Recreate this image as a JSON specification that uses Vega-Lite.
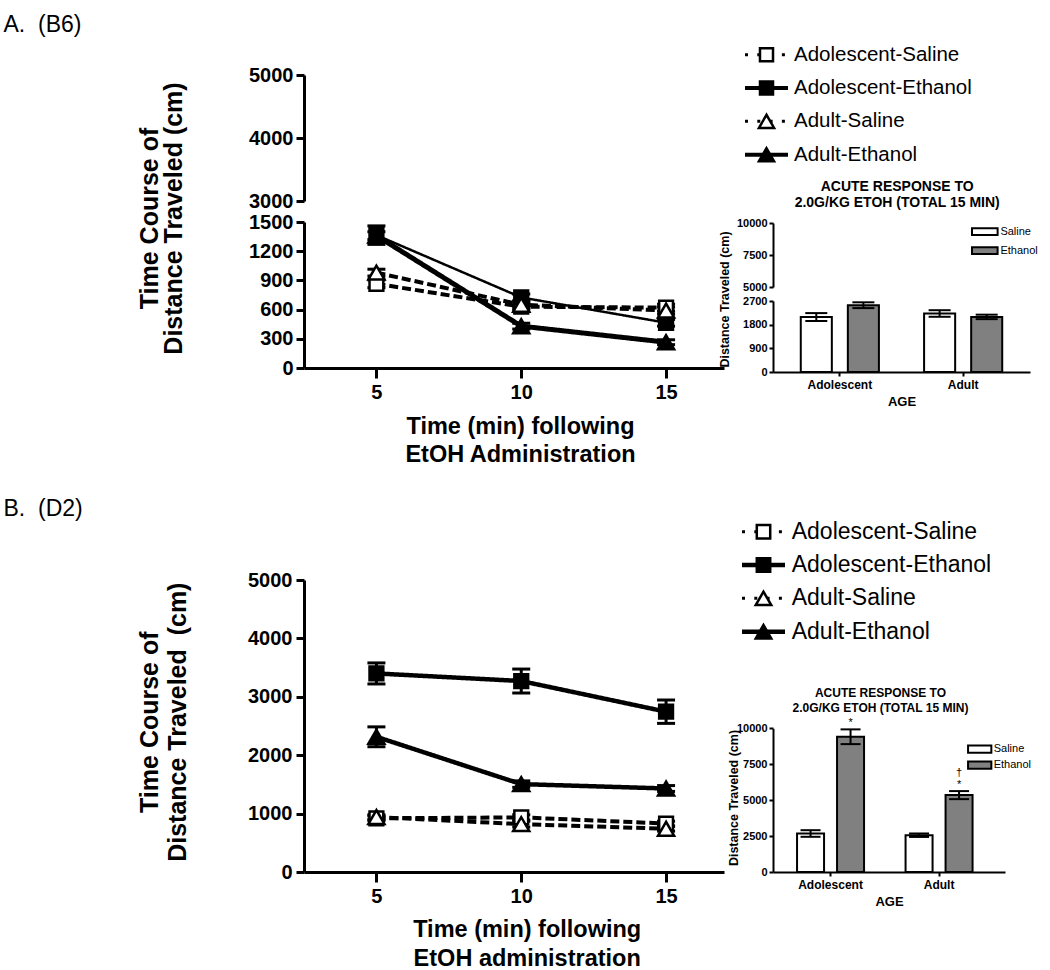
{
  "$schema": "https://vega.github.io/schema/vega-lite/v6.json",
  "autosize": {"type": "none"},
  "padding": {"left": 304, "top": 38, "right": 746, "bottom": 932},
  "background": "white",
  "datasets": {
    "lines": [
      {"panel": "A", "series": "Adolescent-Saline", "time": 5, "mean": 865, "lo": 825, "hi": 905},
      {"panel": "A", "series": "Adolescent-Saline", "time": 10, "mean": 630, "lo": 595, "hi": 665},
      {"panel": "A", "series": "Adolescent-Saline", "time": 15, "mean": 620, "lo": 585, "hi": 655},
      {"panel": "A", "series": "Adolescent-Ethanol", "time": 5, "mean": 1365, "lo": 1270, "hi": 1460},
      {"panel": "A", "series": "Adolescent-Ethanol", "time": 10, "mean": 725, "lo": 690, "hi": 760},
      {"panel": "A", "series": "Adolescent-Ethanol", "time": 15, "mean": 465, "lo": 430, "hi": 500},
      {"panel": "A", "series": "Adult-Saline", "time": 5, "mean": 980, "lo": 945, "hi": 1015},
      {"panel": "A", "series": "Adult-Saline", "time": 10, "mean": 650, "lo": 615, "hi": 685},
      {"panel": "A", "series": "Adult-Saline", "time": 15, "mean": 590, "lo": 555, "hi": 625},
      {"panel": "A", "series": "Adult-Ethanol", "time": 5, "mean": 1360, "lo": 1320, "hi": 1400},
      {"panel": "A", "series": "Adult-Ethanol", "time": 10, "mean": 430, "lo": 400, "hi": 460},
      {"panel": "A", "series": "Adult-Ethanol", "time": 15, "mean": 265, "lo": 240, "hi": 290},
      {"panel": "B", "series": "Adolescent-Saline", "time": 5, "mean": 920, "lo": 880, "hi": 960},
      {"panel": "B", "series": "Adolescent-Saline", "time": 10, "mean": 935, "lo": 890, "hi": 980},
      {"panel": "B", "series": "Adolescent-Saline", "time": 15, "mean": 830, "lo": 790, "hi": 870},
      {"panel": "B", "series": "Adolescent-Ethanol", "time": 5, "mean": 3400, "lo": 3220, "hi": 3580},
      {"panel": "B", "series": "Adolescent-Ethanol", "time": 10, "mean": 3270, "lo": 3065, "hi": 3475},
      {"panel": "B", "series": "Adolescent-Ethanol", "time": 15, "mean": 2745, "lo": 2545, "hi": 2945},
      {"panel": "B", "series": "Adult-Saline", "time": 5, "mean": 940, "lo": 900, "hi": 980},
      {"panel": "B", "series": "Adult-Saline", "time": 10, "mean": 820, "lo": 770, "hi": 870},
      {"panel": "B", "series": "Adult-Saline", "time": 15, "mean": 740, "lo": 700, "hi": 780},
      {"panel": "B", "series": "Adult-Ethanol", "time": 5, "mean": 2315, "lo": 2145, "hi": 2485},
      {"panel": "B", "series": "Adult-Ethanol", "time": 10, "mean": 1505, "lo": 1450, "hi": 1560},
      {"panel": "B", "series": "Adult-Ethanol", "time": 15, "mean": 1430, "lo": 1380, "hi": 1480}
    ],
    "bars": [
      {"panel": "A", "age": "Adolescent", "treatment": "Saline", "mean": 2090, "lo": 1940, "hi": 2240, "sig": "", "dagger": ""},
      {"panel": "A", "age": "Adolescent", "treatment": "Ethanol", "mean": 2540, "lo": 2430, "hi": 2650, "sig": "", "dagger": ""},
      {"panel": "A", "age": "Adult", "treatment": "Saline", "mean": 2225, "lo": 2100, "hi": 2350, "sig": "", "dagger": ""},
      {"panel": "A", "age": "Adult", "treatment": "Ethanol", "mean": 2095, "lo": 2010, "hi": 2180, "sig": "", "dagger": ""},
      {"panel": "B", "age": "Adolescent", "treatment": "Saline", "mean": 2680, "lo": 2450, "hi": 2910, "sig": "", "dagger": ""},
      {"panel": "B", "age": "Adolescent", "treatment": "Ethanol", "mean": 9410, "lo": 8900, "hi": 9925, "sig": "*", "dagger": ""},
      {"panel": "B", "age": "Adult", "treatment": "Saline", "mean": 2560, "lo": 2440, "hi": 2680, "sig": "", "dagger": ""},
      {"panel": "B", "age": "Adult", "treatment": "Ethanol", "mean": 5350, "lo": 5070, "hi": 5630, "sig": "*", "dagger": "\u2020"}
    ],
    "legend": [
      {"series": "Adolescent-Saline"},
      {"series": "Adolescent-Ethanol"},
      {"series": "Adult-Saline"},
      {"series": "Adult-Ethanol"}
    ]
  },
  "columns": 2,
  "align": "each",
  "bounds": "flush",
  "spacing": {"row": 143, "column": 49},
  "resolve": {
    "scale": {"x": "independent", "y": "independent", "xOffset": "independent", "fill": "independent", "shape": "independent", "strokeDash": "independent", "strokeWidth": "independent", "size": "independent"},
    "legend": {"fill": "independent"}
  },
  "concat": [
    {
      "width": 420, "height": 330,
      "data": {"name": "lines"},
      "transform": [{"filter": "datum.panel === 'A'"}],
      "resolve": {"scale": {"x": "independent", "y": "independent"}, "axis": {"x": "independent", "y": "independent"}},
      "layer": [
        {
          "transform": [{"filter": "datum.mean >= 3000"}],
          "mark": {"type": "point", "opacity": 0},
          "encoding": {
            "x": {"field": "time", "type": "quantitative", "scale": {"domain": [2.5, 17], "nice": false, "zero": false},
                  "axis": {"orient": "top", "domain": false, "ticks": false, "labels": false, "title": "A.\u00a0 (B6)", "titleX": -301, "titleY": -6.3, "titleAlign": "left", "titleBaseline": "alphabetic", "titleAngle": 0, "titleFontSize": 23, "titleFontWeight": "normal"}},
            "y": {"field": "mean", "type": "quantitative", "scale": {"domain": [3000, 5000], "range": [163, 37], "nice": false, "zero": false},
                  "axis": {"orient": "left", "values": [3000, 4000, 5000], "format": "d", "labelFontSize": 20, "tickSize": 8, "tickWidth": 3, "domainWidth": 3, "labelPadding": 3, "labelOverlap": false, "title": null}}
          }
        },
        {
          "encoding": {
            "x": {"field": "time", "type": "quantitative", "scale": {"domain": [2.5, 17], "nice": false, "zero": false},
                  "axis": {"orient": "bottom", "values": [5, 10, 15], "title": ["Time (min) following", "EtOH Administration"], "titleFontSize": 23.5, "titleLineHeight": 28.3, "titleX": 216, "titleY": 65.5, "titleAlign": "center", "titleBaseline": "alphabetic", "labelFontSize": 20, "labelPadding": 4, "tickSize": 10, "tickWidth": 3, "domainWidth": 3, "labelOverlap": false}}
          },
          "layer": [
            {
              "mark": {"type": "line", "color": "black"},
              "encoding": {
                "y": {"field": "mean", "type": "quantitative", "scale": {"domain": [0, 1500], "range": [330, 184], "nice": false, "zero": false},
                      "axis": {"orient": "left", "values": [0, 300, 600, 900, 1200, 1500], "format": "d", "labelFontSize": 20, "tickSize": 8, "tickWidth": 3, "domainWidth": 3, "labelPadding": 3, "labelOverlap": false,
                               "title": ["Time Course of", "Distance Traveled (cm)"], "titleFontSize": 25, "titleLineHeight": 24, "titleX": -154.8, "titleY": 180, "titleAngle": -90, "titleAlign": "center", "titleBaseline": "middle"}},
                "detail": {"field": "series"},
                "strokeDash": {"field": "series", "type": "nominal", "scale": {"type": "ordinal", "domain": ["Adolescent-Saline", "Adolescent-Ethanol", "Adult-Saline", "Adult-Ethanol"], "range": [[9, 4], [1, 0], [9, 4], [1, 0]]}, "legend": null},
                "strokeWidth": {"field": "series", "type": "nominal", "scale": {"type": "ordinal", "domain": ["Adolescent-Saline", "Adolescent-Ethanol", "Adult-Saline", "Adult-Ethanol"], "range": [4, 2.5, 4, 5]}, "legend": null}
              }
            },
            {
              "mark": {"type": "rule", "color": "black", "strokeWidth": 3},
              "encoding": {"y": {"field": "lo", "type": "quantitative"}, "y2": {"field": "hi"}}
            },
            {
              "mark": {"type": "tick", "orient": "horizontal", "color": "black", "thickness": 3, "size": 18, "opacity": 1},
              "encoding": {"y": {"field": "lo", "type": "quantitative"}}
            },
            {
              "mark": {"type": "tick", "orient": "horizontal", "color": "black", "thickness": 3, "size": 18, "opacity": 1},
              "encoding": {"y": {"field": "hi", "type": "quantitative"}}
            },
            {
              "mark": {"type": "point", "stroke": "black", "strokeWidth": 2.5, "filled": true, "opacity": 1},
              "encoding": {
                "y": {"field": "mean", "type": "quantitative"},
                "shape": {"field": "series", "type": "nominal", "scale": {"domain": ["Adolescent-Saline", "Adolescent-Ethanol", "Adult-Saline", "Adult-Ethanol"], "range": ["square", "square", "triangle-up", "triangle-up"]}, "legend": null},
                "fill": {"field": "series", "type": "nominal", "scale": {"domain": ["Adolescent-Saline", "Adolescent-Ethanol", "Adult-Saline", "Adult-Ethanol"], "range": ["white", "black", "white", "black"]}, "legend": null},
                "size": {"field": "series", "type": "nominal", "scale": {"type": "ordinal", "domain": ["Adolescent-Saline", "Adolescent-Ethanol", "Adult-Saline", "Adult-Ethanol"], "range": [190, 190, 260, 260]}, "legend": null}
              }
            }
          ]
        }
      ]
    },
    {
      "width": 257, "height": 334,
      "resolve": {
        "scale": {"x": "independent", "y": "independent", "xOffset": "independent", "fill": "independent", "shape": "independent", "size": "independent", "strokeDash": "independent", "strokeWidth": "independent"},
        "axis": {"x": "independent", "y": "independent"},
        "legend": {"fill": "independent"}
      },
      "layer": [
        {
          "data": {"name": "legend"},
          "encoding": {
            "y": {"field": "series", "type": "nominal", "scale": {"type": "point", "domain": ["Adolescent-Saline", "Adolescent-Ethanol", "Adult-Saline", "Adult-Ethanol"], "range": [16.7, 116.7], "padding": 0}, "axis": null}
          },
          "layer": [
            {
              "mark": {"type": "rule", "color": "black"},
              "encoding": {
                "x": {"datum": 0, "type": "quantitative", "scale": {"domain": [0, 1], "range": [-28, 15], "nice": false, "zero": false}, "axis": null},
                "x2": {"datum": 1},
                "strokeDash": {"field": "series", "type": "nominal", "scale": {"type": "ordinal", "domain": ["Adolescent-Saline", "Adolescent-Ethanol", "Adult-Saline", "Adult-Ethanol"], "range": [[3, 9.3], [1, 0], [3, 9.3], [1, 0]]}, "legend": null},
                "strokeWidth": {"field": "series", "type": "nominal", "scale": {"type": "ordinal", "domain": ["Adolescent-Saline", "Adolescent-Ethanol", "Adult-Saline", "Adult-Ethanol"], "range": [3, 4, 3, 4]}, "legend": null}
              }
            },
            {
              "mark": {"type": "point", "stroke": "black", "strokeWidth": 2.5, "filled": true, "opacity": 1},
              "encoding": {
                "x": {"datum": 0.5, "type": "quantitative"},
                "shape": {"field": "series", "type": "nominal", "scale": {"domain": ["Adolescent-Saline", "Adolescent-Ethanol", "Adult-Saline", "Adult-Ethanol"], "range": ["square", "square", "triangle-up", "triangle-up"]}, "legend": null},
                "fill": {"field": "series", "type": "nominal", "scale": {"domain": ["Adolescent-Saline", "Adolescent-Ethanol", "Adult-Saline", "Adult-Ethanol"], "range": ["white", "black", "white", "black"]}, "legend": null},
                "size": {"field": "series", "type": "nominal", "scale": {"type": "ordinal", "domain": ["Adolescent-Saline", "Adolescent-Ethanol", "Adult-Saline", "Adult-Ethanol"], "range": [170, 170, 230, 230]}, "legend": null}
              }
            },
            {
              "mark": {"type": "text", "align": "left", "baseline": "middle", "fontSize": 20.5, "color": "black"},
              "encoding": {
                "x": {"datum": 1.14, "type": "quantitative"},
                "text": {"field": "series"}
              }
            }
          ]
        },
        {
          "data": {"name": "bars"},
          "transform": [{"filter": "datum.panel === 'A' && datum.mean >= 5000"}],
          "mark": {"type": "point", "opacity": 0},
          "encoding": {
            "x": {"field": "age", "type": "nominal", "scale": {"domain": ["Adolescent", "Adult"]},
                  "axis": {"orient": "top", "domain": false, "ticks": false, "labels": false, "title": ["ACUTE RESPONSE TO", "2.0G/KG ETOH (TOTAL 15 MIN)"], "titleX": 123.7, "titleY": 152, "titleAlign": "center", "titleBaseline": "alphabetic", "titleAngle": 0, "titleFontSize": 14, "titleLineHeight": 16.7}},
            "y": {"field": "mean", "type": "quantitative", "scale": {"domain": [5000, 10000], "range": [249, 185], "nice": false, "zero": false},
                  "axis": {"orient": "left", "values": [5000, 7500, 10000], "format": "d", "labelFontSize": 11, "tickSize": 4, "tickWidth": 2, "domainWidth": 2, "labelPadding": 2, "labelOverlap": false, "title": null}}
          }
        },
        {
          "data": {"name": "bars"},
          "transform": [{"filter": "datum.panel === 'A'"}],
          "encoding": {
            "x": {"field": "age", "type": "nominal", "scale": {"domain": ["Adolescent", "Adult"], "paddingInner": 0, "paddingOuter": 0.042, "align": 0.5},
                  "axis": {"orient": "bottom", "title": "AGE", "labelAngle": 0, "labelFontSize": 12, "tickSize": 4, "tickWidth": 2, "domainWidth": 2, "labelPadding": 3, "titleFontSize": 13, "titlePadding": 5}},
            "xOffset": {"field": "treatment", "type": "nominal", "scale": {"domain": ["Saline", "Ethanol"], "paddingInner": 0.34, "paddingOuter": 0.48}}
          },
          "layer": [
            {
              "mark": {"type": "bar", "stroke": "black", "strokeWidth": 2},
              "encoding": {
                "y": {"field": "mean", "type": "quantitative", "scale": {"domain": [0, 2700], "range": [334, 263], "nice": false, "zero": false},
                      "axis": {"orient": "left", "values": [0, 900, 1800, 2700], "format": "d", "labelFontSize": 11, "tickSize": 4, "tickWidth": 2, "domainWidth": 2, "labelPadding": 2, "labelOverlap": false,
                               "title": "Distance Traveled (cm)", "titleFontSize": 12.5, "titleX": -49, "titleY": 261, "titleAngle": -90, "titleAlign": "center", "titleBaseline": "middle"}},
                "fill": {"field": "treatment", "type": "nominal", "scale": {"domain": ["Saline", "Ethanol"], "range": ["white", "#808080"]},
                         "legend": {"title": null, "orient": "none", "legendX": 202.8, "legendY": 184.7, "symbolType": "M-1.6,-0.42H1.6V0.42H-1.6Z", "symbolSize": 256, "symbolStrokeColor": "black", "symbolStrokeWidth": 2, "symbolOpacity": 1, "labelFontSize": 11, "labelFontWeight": "normal", "labelOffset": 6.6, "rowPadding": 2, "padding": 0, "direction": "vertical"}}
              }
            },
            {
              "mark": {"type": "rule", "color": "black", "strokeWidth": 2},
              "encoding": {"y": {"field": "lo", "type": "quantitative"}, "y2": {"field": "hi"}}
            },
            {
              "mark": {"type": "tick", "orient": "horizontal", "color": "black", "thickness": 2, "size": 22, "opacity": 1},
              "encoding": {"y": {"field": "lo", "type": "quantitative"}}
            },
            {
              "mark": {"type": "tick", "orient": "horizontal", "color": "black", "thickness": 2, "size": 22, "opacity": 1},
              "encoding": {"y": {"field": "hi", "type": "quantitative"}}
            }
          ]
        }
      ]
    },
    {
      "width": 420, "height": 357,
      "data": {"name": "lines"},
      "transform": [{"filter": "datum.panel === 'B'"}],
      "resolve": {"scale": {"x": "independent", "y": "independent"}, "axis": {"x": "independent", "y": "independent"}},
      "layer": [
        {
          "transform": [{"filter": "datum.mean >= 100000"}],
          "mark": {"type": "point", "opacity": 0},
          "encoding": {
            "x": {"field": "time", "type": "quantitative", "scale": {"domain": [2.5, 17], "nice": false, "zero": false},
                  "axis": {"orient": "top", "domain": false, "ticks": false, "labels": false, "title": "B.\u00a0 (D2)", "titleX": -301, "titleY": 0, "titleAlign": "left", "titleBaseline": "alphabetic", "titleAngle": 0, "titleFontSize": 23, "titleFontWeight": "normal"}}
          }
        },
        {
          "encoding": {
            "x": {"field": "time", "type": "quantitative", "scale": {"domain": [2.5, 17], "nice": false, "zero": false},
                  "axis": {"orient": "bottom", "values": [5, 10, 15], "title": ["Time (min) following", "EtOH administration"], "titleFontSize": 23.5, "titleLineHeight": 28.4, "titleX": 222.7, "titleY": 64.8, "titleAlign": "center", "titleBaseline": "alphabetic", "labelFontSize": 20, "labelPadding": 4, "tickSize": 10, "tickWidth": 3, "domainWidth": 3, "labelOverlap": false}}
          },
          "layer": [
            {
              "mark": {"type": "line", "color": "black"},
              "encoding": {
                "y": {"field": "mean", "type": "quantitative", "scale": {"domain": [0, 5000], "range": [357, 65], "nice": false, "zero": false},
                      "axis": {"orient": "left", "values": [0, 1000, 2000, 3000, 4000, 5000], "format": "d", "labelFontSize": 20, "tickSize": 8, "tickWidth": 3, "domainWidth": 3, "labelPadding": 4, "labelOverlap": false,
                               "title": ["Time Course of", "Distance Traveled\u00a0 (cm)"], "titleFontSize": 25, "titleLineHeight": 28, "titleX": -154.8, "titleY": 206.7, "titleAngle": -90, "titleAlign": "center", "titleBaseline": "middle"}},
                "detail": {"field": "series"},
                "strokeDash": {"field": "series", "type": "nominal", "scale": {"type": "ordinal", "domain": ["Adolescent-Saline", "Adolescent-Ethanol", "Adult-Saline", "Adult-Ethanol"], "range": [[9, 4], [1, 0], [9, 4], [1, 0]]}, "legend": null},
                "strokeWidth": {"field": "series", "type": "nominal", "scale": {"type": "ordinal", "domain": ["Adolescent-Saline", "Adolescent-Ethanol", "Adult-Saline", "Adult-Ethanol"], "range": [4, 4.5, 4, 4.5]}, "legend": null}
              }
            },
            {
              "mark": {"type": "rule", "color": "black", "strokeWidth": 3},
              "encoding": {"y": {"field": "lo", "type": "quantitative"}, "y2": {"field": "hi"}}
            },
            {
              "mark": {"type": "tick", "orient": "horizontal", "color": "black", "thickness": 3, "size": 18, "opacity": 1},
              "encoding": {"y": {"field": "lo", "type": "quantitative"}}
            },
            {
              "mark": {"type": "tick", "orient": "horizontal", "color": "black", "thickness": 3, "size": 18, "opacity": 1},
              "encoding": {"y": {"field": "hi", "type": "quantitative"}}
            },
            {
              "mark": {"type": "point", "stroke": "black", "strokeWidth": 2.5, "filled": true, "opacity": 1},
              "encoding": {
                "y": {"field": "mean", "type": "quantitative"},
                "shape": {"field": "series", "type": "nominal", "scale": {"domain": ["Adolescent-Saline", "Adolescent-Ethanol", "Adult-Saline", "Adult-Ethanol"], "range": ["square", "square", "triangle-up", "triangle-up"]}, "legend": null},
                "fill": {"field": "series", "type": "nominal", "scale": {"domain": ["Adolescent-Saline", "Adolescent-Ethanol", "Adult-Saline", "Adult-Ethanol"], "range": ["white", "black", "white", "black"]}, "legend": null},
                "size": {"field": "series", "type": "nominal", "scale": {"type": "ordinal", "domain": ["Adolescent-Saline", "Adolescent-Ethanol", "Adult-Saline", "Adult-Ethanol"], "range": [190, 190, 260, 260]}, "legend": null}
              }
            }
          ]
        }
      ]
    },
    {
      "width": 232, "height": 357,
      "resolve": {
        "scale": {"x": "independent", "y": "independent", "xOffset": "independent", "fill": "independent", "shape": "independent", "size": "independent", "strokeDash": "independent", "strokeWidth": "independent"},
        "axis": {"x": "independent", "y": "independent"},
        "legend": {"fill": "independent"}
      },
      "layer": [
        {
          "data": {"name": "legend"},
          "encoding": {
            "y": {"field": "series", "type": "nominal", "scale": {"type": "point", "domain": ["Adolescent-Saline", "Adolescent-Ethanol", "Adult-Saline", "Adult-Ethanol"], "range": [16.7, 116.7], "padding": 0}, "axis": null}
          },
          "layer": [
            {
              "mark": {"type": "rule", "color": "black"},
              "encoding": {
                "x": {"datum": 0, "type": "quantitative", "scale": {"domain": [0, 1], "range": [-31, 12], "nice": false, "zero": false}, "axis": null},
                "x2": {"datum": 1},
                "strokeDash": {"field": "series", "type": "nominal", "scale": {"type": "ordinal", "domain": ["Adolescent-Saline", "Adolescent-Ethanol", "Adult-Saline", "Adult-Ethanol"], "range": [[3, 9.3], [1, 0], [3, 9.3], [1, 0]]}, "legend": null},
                "strokeWidth": {"field": "series", "type": "nominal", "scale": {"type": "ordinal", "domain": ["Adolescent-Saline", "Adolescent-Ethanol", "Adult-Saline", "Adult-Ethanol"], "range": [3, 4.5, 3, 4.5]}, "legend": null}
              }
            },
            {
              "mark": {"type": "point", "stroke": "black", "strokeWidth": 2.5, "filled": true, "opacity": 1},
              "encoding": {
                "x": {"datum": 0.5, "type": "quantitative"},
                "shape": {"field": "series", "type": "nominal", "scale": {"domain": ["Adolescent-Saline", "Adolescent-Ethanol", "Adult-Saline", "Adult-Ethanol"], "range": ["square", "square", "triangle-up", "triangle-up"]}, "legend": null},
                "fill": {"field": "series", "type": "nominal", "scale": {"domain": ["Adolescent-Saline", "Adolescent-Ethanol", "Adult-Saline", "Adult-Ethanol"], "range": ["white", "black", "white", "black"]}, "legend": null},
                "size": {"field": "series", "type": "nominal", "scale": {"type": "ordinal", "domain": ["Adolescent-Saline", "Adolescent-Ethanol", "Adult-Saline", "Adult-Ethanol"], "range": [180, 180, 240, 240]}, "legend": null}
              }
            },
            {
              "mark": {"type": "text", "align": "left", "baseline": "middle", "fontSize": 23, "color": "black"},
              "encoding": {
                "x": {"datum": 1.156, "type": "quantitative"},
                "text": {"field": "series"}
              }
            }
          ]
        },
        {
          "data": {"name": "bars"},
          "transform": [{"filter": "datum.panel === 'B' && datum.mean >= 100000"}],
          "mark": {"type": "point", "opacity": 0},
          "encoding": {
            "x": {"field": "age", "type": "nominal", "scale": {"domain": ["Adolescent", "Adult"]},
                  "axis": {"orient": "top", "domain": false, "ticks": false, "labels": false, "title": ["ACUTE RESPONSE TO", "2.0G/KG ETOH (TOTAL 15 MIN)"], "titleX": 107, "titleY": 181, "titleAlign": "center", "titleBaseline": "alphabetic", "titleAngle": 0, "titleFontSize": 12, "titleLineHeight": 15}}
          }
        },
        {
          "data": {"name": "bars"},
          "transform": [{"filter": "datum.panel === 'B'"}],
          "encoding": {
            "x": {"field": "age", "type": "nominal", "scale": {"domain": ["Adolescent", "Adult"], "paddingInner": 0, "paddingOuter": 0.069, "align": 0.22},
                  "axis": {"orient": "bottom", "title": "AGE", "labelAngle": 0, "labelFontSize": 12, "tickSize": 4, "tickWidth": 2, "domainWidth": 2, "labelPadding": 3, "titleFontSize": 13, "titlePadding": 5}},
            "xOffset": {"field": "treatment", "type": "nominal", "scale": {"domain": ["Saline", "Ethanol"], "paddingInner": 0.325, "paddingOuter": 0.519}}
          },
          "layer": [
            {
              "mark": {"type": "bar", "stroke": "black", "strokeWidth": 2},
              "encoding": {
                "y": {"field": "mean", "type": "quantitative", "scale": {"domain": [0, 10000], "range": [357, 213.3], "nice": false, "zero": false},
                      "axis": {"orient": "left", "values": [0, 2500, 5000, 7500, 10000], "format": "d", "labelFontSize": 11, "tickSize": 4, "tickWidth": 2, "domainWidth": 2, "labelPadding": 2, "labelOverlap": false,
                               "title": "Distance Traveled (cm)", "titleFontSize": 12.5, "titleX": -40, "titleY": 282.5, "titleAngle": -90, "titleAlign": "center", "titleBaseline": "middle"}},
                "fill": {"field": "treatment", "type": "nominal", "scale": {"domain": ["Saline", "Ethanol"], "range": ["white", "#808080"]},
                         "legend": {"title": null, "orient": "none", "legendX": 198.7, "legendY": 226.2, "symbolType": "M-1.75,-0.55H1.75V0.55H-1.75Z", "symbolSize": 177, "symbolStrokeColor": "black", "symbolStrokeWidth": 2, "symbolOpacity": 1, "labelFontSize": 11, "labelFontWeight": "normal", "labelOffset": 6, "rowPadding": 0, "padding": 0, "direction": "vertical"}}
              }
            },
            {
              "mark": {"type": "rule", "color": "black", "strokeWidth": 2},
              "encoding": {"y": {"field": "lo", "type": "quantitative"}, "y2": {"field": "hi"}}
            },
            {
              "mark": {"type": "tick", "orient": "horizontal", "color": "black", "thickness": 2, "size": 20, "opacity": 1},
              "encoding": {"y": {"field": "lo", "type": "quantitative"}}
            },
            {
              "mark": {"type": "tick", "orient": "horizontal", "color": "black", "thickness": 2, "size": 20, "opacity": 1},
              "encoding": {"y": {"field": "hi", "type": "quantitative"}}
            },
            {
              "mark": {"type": "text", "baseline": "bottom", "dy": -1, "fontSize": 11, "color": "black"},
              "encoding": {"y": {"field": "hi", "type": "quantitative"}, "text": {"field": "sig"}}
            },
            {
              "mark": {"type": "text", "baseline": "bottom", "dy": -13, "fontSize": 11, "color": "black"},
              "encoding": {"y": {"field": "hi", "type": "quantitative"}, "text": {"field": "dagger"}}
            }
          ]
        }
      ]
    }
  ],
  "config": {
    "view": {"stroke": null},
    "font": "Liberation Sans",
    "axis": {"labelFont": "Liberation Sans", "titleFont": "Liberation Sans", "labelColor": "black", "titleColor": "black", "domainColor": "black", "tickColor": "black", "grid": false, "labelFlush": false, "labelOverlap": false, "labelFontWeight": "bold", "titleFontWeight": "bold"},
    "title": {"font": "Liberation Sans", "color": "black"},
    "legend": {"labelFont": "Liberation Sans", "labelColor": "black"},
    "text": {"font": "Liberation Sans"}
  }
}
